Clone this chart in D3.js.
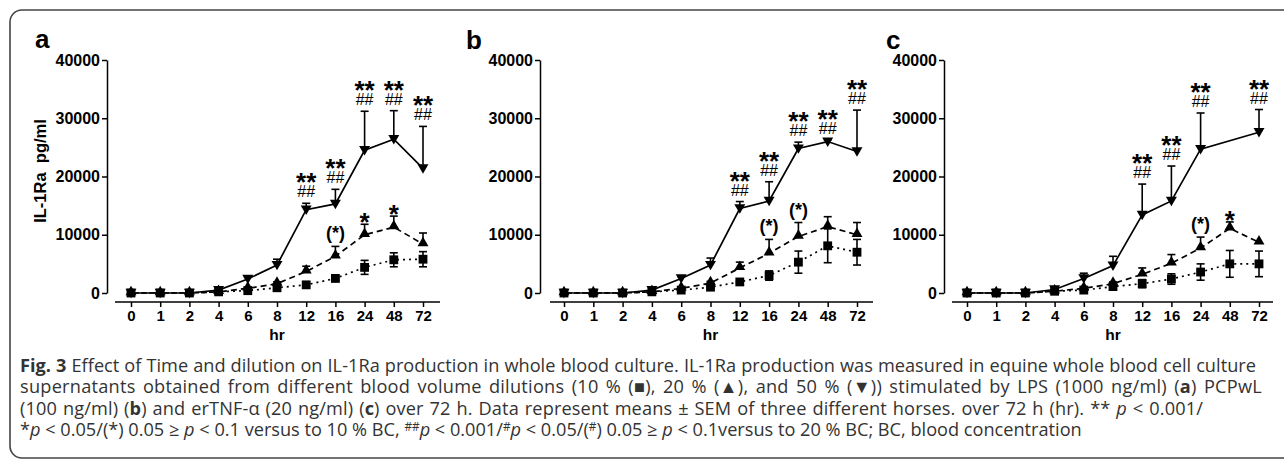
<!DOCTYPE html>
<html><head><meta charset="utf-8">
<script src="https://cdn.jsdelivr.net/npm/d3@7"></script>
<style>body{margin:0;background:#fff} svg{display:block}</style>
</head><body>
<svg id="chart" width="1284" height="463"></svg>
<script>
// ---------- DATA ----------
const hours = ["0","1","2","4","6","8","12","16","24","48","72"];
const yTicks = [0,10000,20000,30000,40000];

// panel a (LPS)
const a50    = [0,0,0,500,2400,4800,14300,15300,24500,26400,21400];
const a50err = [0,0,0,0,300,1000,1100,2500,6700,4900,7200];
const a20    = [0,0,0,200,800,1600,3700,6300,10000,11300,8400];
const a20err = [0,0,0,0,200,300,900,1700,1800,1900,1900];
const a10    = [0,0,0,200,400,900,1400,2500,4400,5700,5800];
const a10err = [0,0,0,0,100,100,200,300,1200,1200,1300];
const a50sig = ["","","","","","","**","**","**","**","**"];
const a50hash= ["","","","","","","##","##","##","##","##"];
const a20sig = ["","","","","","","","(*)","*","*",""];

// panel b (PCPwL)
const b50    = [0,0,0,500,2500,4800,14500,15800,24800,26000,24300];
const b50err = [0,0,0,0,300,1200,1200,3300,1100,300,7100];
const b20    = [0,0,0,200,800,1700,4300,6800,9700,11400,10000];
const b20err = [0,0,0,0,200,300,1000,2400,2400,1700,2100];
const b10    = [0,0,0,200,500,1000,1900,3000,5300,8100,7000];
const b10err = [0,0,0,0,100,200,200,800,1900,2900,2200];
const b50sig = ["","","","","","","**","**","**","**","**"];
const b50hash= ["","","","","","","##","##","##","##","##"];
const b20sig = ["","","","","","","","(*)","(*)","",""];

// panel c (erTNF-a)
const c50    = [0,0,0,600,2500,4700,13400,15800,24700,null,27600];
const c50err = [0,0,0,0,900,1600,5300,6000,6200,0,3900];
const c20    = [0,0,0,300,800,1600,3200,5100,7700,11100,8700];
const c20err = [0,0,0,0,200,300,1100,1500,1900,1100,0];
const c10    = [0,0,0,300,500,1100,1600,2400,3600,5000,5000];
const c10err = [0,0,0,0,100,200,700,900,1400,2300,2200];
const c50sig = ["","","","","","","**","**","**","","**"];
const c50hash= ["","","","","","","##","##","##","","##"];
const c20sig = ["","","","","","","","","(*)","*",""];

const panelLabels = ["a","b","c"];
const yTitle = "IL-1Ra  pg/ml";
const xTitle = "hr";

// ---------- LAYOUT ----------
const svg = d3.select("#chart");
const FONT = "'Liberation Sans', Arial, sans-serif";
const CAPFONT = "'Open Sans', 'Noto Sans', sans-serif";

svg.append("rect").attr("x",10).attr("y",10).attr("width",1300).attr("height",448)
  .attr("rx",12).attr("fill","none").attr("stroke","#444").attr("stroke-width",1.6);

const layout = [
  {lx:35, ly:48, axisX:107, x0:131, x1:423, xa0:115, xa1:440},
  {lx:466,ly:49, axisX:540, x0:564, x1:857, xa0:550, xa1:873},
  {lx:886,ly:49, axisX:944, x0:967, x1:1259, xa0:952, xa1:1273}
];
const panels = [
  {s50:a50,e50:a50err,s20:a20,e20:a20err,s10:a10,e10:a10err,sig50:a50sig,hash50:a50hash,sig20:a20sig},
  {s50:b50,e50:b50err,s20:b20,e20:b20err,s10:b10,e10:b10err,sig50:b50sig,hash50:b50hash,sig20:b20sig},
  {s50:c50,e50:c50err,s20:c20,e20:c20err,s10:c10,e10:c10err,sig50:c50sig,hash50:c50hash,sig20:c20sig}
];

const Y0 = 293, Y1 = 60, XAXIS_Y = 302;

panels.forEach((p, pi) => {
  const L = layout[pi];
  const g = svg.append("g");
  const x = d3.scalePoint().domain(hours).range([L.x0, L.x1]);
  const y = d3.scaleLinear().domain([0,40000]).range([Y0, Y1]);

  g.append("text").attr("x",L.lx).attr("y",L.ly).text(panelLabels[pi])
    .attr("font-family",FONT).attr("font-weight","bold").attr("font-size",26).attr("fill","#000");

  const ya = g.append("g").attr("transform",`translate(${L.axisX},0)`)
    .call(d3.axisLeft(y).tickValues(yTicks).tickSize(5).tickSizeOuter(0).tickPadding(2).tickFormat(d3.format("d")));
  ya.select(".domain").attr("stroke","#000").attr("stroke-width",1.5);
  ya.selectAll(".tick line").attr("stroke","#000").attr("stroke-width",1.5);
  ya.selectAll(".tick text").attr("font-family",FONT).attr("font-weight","bold").attr("font-size",16).attr("fill","#000");

  const xa = g.append("g").attr("transform",`translate(0,${XAXIS_Y})`)
    .call(d3.axisBottom(x).tickSize(5).tickSizeOuter(0).tickPadding(3));
  xa.select(".domain").remove();
  xa.append("line").attr("x1",L.xa0).attr("x2",L.xa1).attr("stroke","#000").attr("stroke-width",1.5);
  xa.selectAll(".tick line").attr("stroke","#000").attr("stroke-width",1.5);
  xa.selectAll(".tick text").attr("font-family",FONT).attr("font-weight","bold").attr("font-size",15).attr("fill","#000");

  g.append("text").attr("x",(L.x0+L.x1)/2).attr("y",340).attr("text-anchor","middle").text(xTitle)
    .attr("font-family",FONT).attr("font-weight","bold").attr("font-size",15.5);

  if (pi === 0) {
    g.append("text").attr("transform",`translate(46,171) rotate(-90)`).attr("text-anchor","middle")
      .text(yTitle).attr("font-family",FONT).attr("font-weight","bold").attr("font-size",16.5)
      .attr("xml:space","preserve").style("white-space","pre");
  }

  const series = [
    {v:p.s50, e:p.e50, dash:null, sym:"down", two:false},
    {v:p.s20, e:p.e20, dash:"6,4", sym:"up", two:false},
    {v:p.s10, e:p.e10, dash:"2,4", sym:"square", two:true}
  ];
  const line = d3.line().x(d=>x(d.h)).y(d=>y(d.v));

  series.forEach(s => {
    const pts = hours.map((h,i)=>({h, v:s.v[i], e:s.e[i]})).filter(d=>d.v!=null);
    g.append("path").attr("d",line(pts)).attr("fill","none").attr("stroke","#000")
      .attr("stroke-width",1.7).attr("stroke-dasharray",s.dash);
    pts.filter(d=>d.e>0).forEach(d=>{
      const cx = x(d.h), yt = y(d.v+d.e), yb = s.two ? y(Math.max(0,d.v-d.e)) : y(d.v);
      g.append("line").attr("x1",cx).attr("x2",cx).attr("y1",yt).attr("y2",yb).attr("stroke","#000").attr("stroke-width",1.6);
      g.append("line").attr("x1",cx-4).attr("x2",cx+4).attr("y1",yt).attr("y2",yt).attr("stroke","#000").attr("stroke-width",1.6);
      if (s.two) g.append("line").attr("x1",cx-4).attr("x2",cx+4).attr("y1",yb).attr("y2",yb).attr("stroke","#000").attr("stroke-width",1.6);
    });
    const symType = s.sym==="square" ? d3.symbolSquare : d3.symbolTriangle;
    const size = s.sym==="square" ? 78 : 52;
    pts.forEach(d=>{
      const rot = s.sym==="down" ? 180 : 0;
      const dy = s.sym==="square" ? 0 : -1;
      g.append("path").attr("d",d3.symbol().type(symType).size(size)())
        .attr("transform",`translate(${x(d.h)},${y(d.v)+dy}) rotate(${rot})`).attr("fill","#000");
    });
  });

  // significance labels
  hours.forEach((h,i)=>{
    if (p.sig50[i]) {
      const top = y(p.s50[i] + p.e50[i]);
      g.append("text").attr("x",x(h)).attr("y",top-6).attr("text-anchor","middle").text(p.hash50[i])
        .attr("font-family",FONT).attr("font-size",16);
      g.append("text").attr("x",x(h)).attr("y",top-12).attr("text-anchor","middle").text(p.sig50[i])
        .attr("font-family",FONT).attr("font-weight","bold").attr("font-size",26);
    }
    if (p.sig20[i]) {
      const top = y(p.s20[i] + p.e20[i]);
      const paren = p.sig20[i].startsWith("(");
      g.append("text").attr("x",x(h)).attr("y", paren ? top-7 : top+7).attr("text-anchor","middle").text(p.sig20[i])
        .attr("font-family",FONT).attr("font-weight","bold").attr("font-size", paren ? 18 : 26);
    }
  });
});

// ---------- CAPTION ----------
const caption = [
  [["Fig. 3","b"],[" Effect of Time and dilution on IL-1Ra production in whole blood culture. IL-1Ra production was measured in equine whole blood cell culture",""]],
  [["supernatants obtained from different blood volume dilutions (10 % (■), 20 % (▲), and 50 % (▼)) stimulated by LPS (1000 ng/ml) (",""],["a","b"],[") PCPwL",""]],
  [["(100 ng/ml) (",""],["b","b"],[") and erTNF-α (20 ng/ml) (",""],["c","b"],[") over 72 h. Data represent means ± SEM of three different horses. over 72 h (hr). ** ",""],["p","i"],[" < 0.001/",""]],
  [["*",""],["p","i"],[" < 0.05/(*) 0.05 ≥ ",""],["p","i"],[" < 0.1 versus to 10 % BC, ",""],["##","s"],["p","i"],[" < 0.001/",""],["#","s"],["p","i"],[" < 0.05/(",""],["#","s"],[") 0.05 ≥ ",""],["p","i"],[" < 0.1versus to 20 % BC; BC, blood concentration",""]]
];
const capY = [372, 393, 415, 436];
const capRight = [1256, 1262, 1203, 1082];
const capNodes = caption.map((segs, li) => {
  const t = svg.append("text").attr("x",20).attr("y",capY[li]).attr("font-family",CAPFONT)
    .attr("font-size",15).attr("fill","#333").attr("xml:space","preserve").style("white-space","pre");
  let prevSup = false;
  segs.forEach(([txt, st]) => {
    const ts = t.append("tspan").text(txt);
    if (st==="b") ts.attr("font-weight","bold");
    if (st==="i") ts.attr("font-style","italic");
    if (st==="s") { ts.attr("font-size","0.65em").attr("dy", prevSup ? 0 : "-0.45em"); }
    else if (prevSup) ts.attr("dy","0.29em");
    prevSup = (st==="s");
  });
  return t;
});
const wLast = capNodes[3].node().getComputedTextLength();
const fs = 15 * (capRight[3] - 20) / wLast;
capNodes.forEach(t => t.attr("font-size", fs));
capNodes.forEach((t, li) => {
  if (li === 3) return;
  const full = caption[li].map(s=>s[0]).join("");
  const w = t.node().getComputedTextLength();
  const extra = capRight[li] - 20 - w;
  const ls = extra * 0.4 / full.length;
  t.style("letter-spacing", ls + "px");
  const w2 = t.node().getComputedTextLength();
  const spaces = full.split(" ").length - 1;
  t.style("word-spacing", ((capRight[li] - 20 - w2) / spaces) + "px");
});
</script>
</body></html>
